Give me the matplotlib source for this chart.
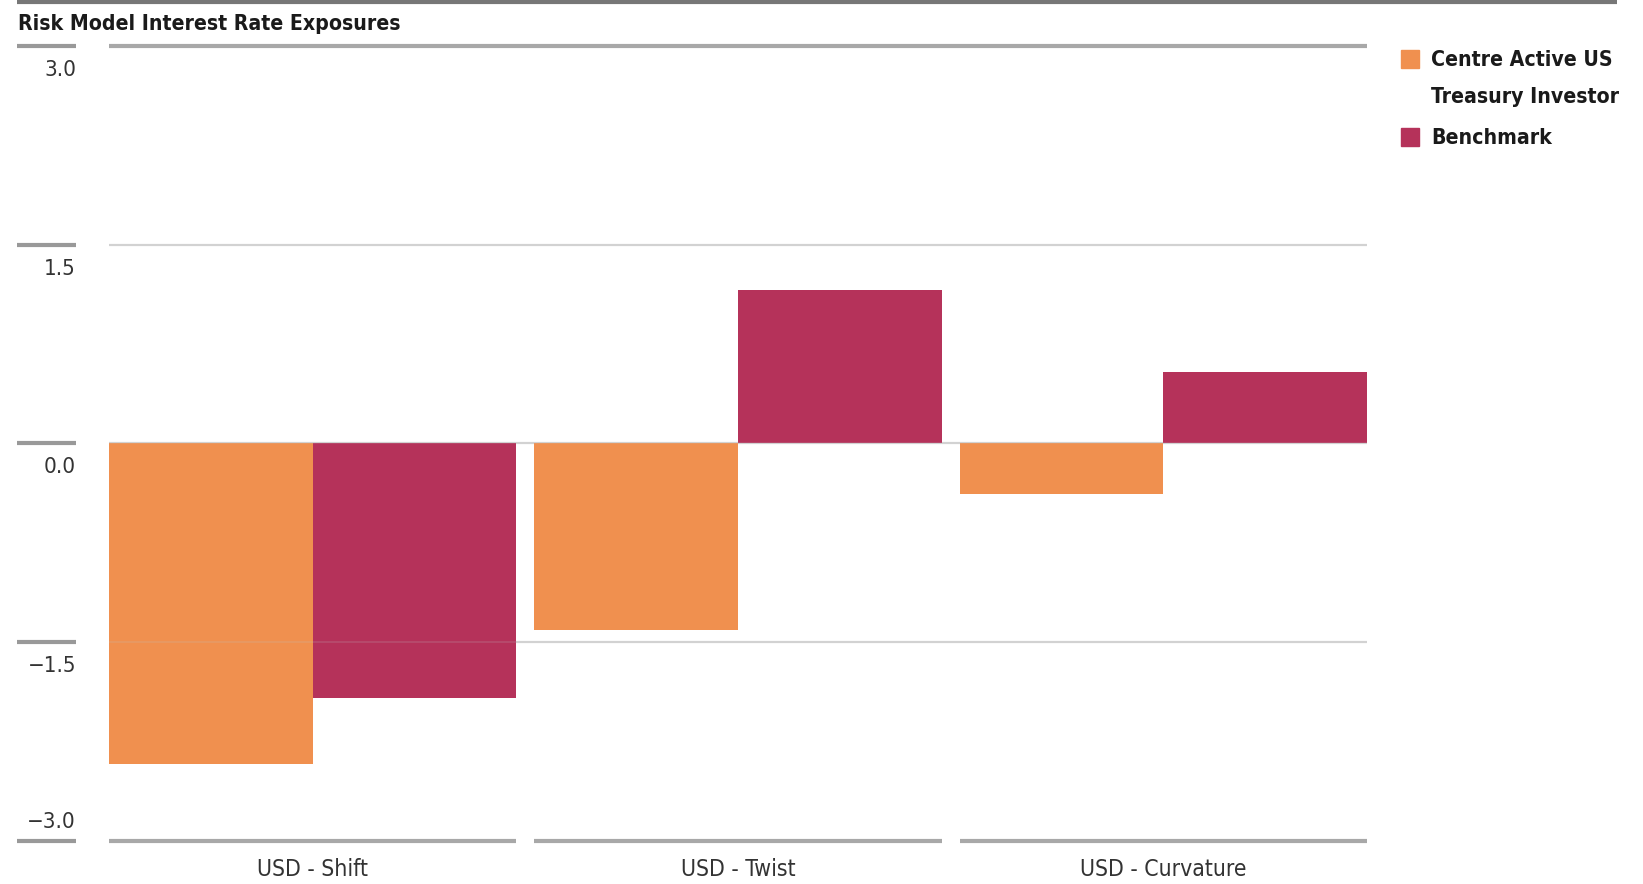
import matplotlib
matplotlib.use("Agg")
import matplotlib.pyplot as plt
import numpy as np
from matplotlib import font_manager
from matplotlib.transforms import blended_transform_factory, offset_copy
from matplotlib.patches import Rectangle
from matplotlib.lines import Line2D

# ---------------- data ----------------
title = "Risk Model Interest Rate Exposures"
categories = ["USD - Shift", "USD - Twist", "USD - Curvature"]
series_names = ["Centre Active US\nTreasury Investor", "Benchmark"]
fund_values = [-2.42, -1.41, -0.38]
benchmark_values = [-1.92, 1.16, 0.54]
y_ticks = [3.0, 1.5, 0.0, -1.5, -3.0]
y_tick_labels = ["3.0", "1.5", "0.0", "\u22121.5", "\u22123.0"]
colors = ["#F0904F", "#B5325A"]

# ---------------- font ----------------
names = {(f.name, f.stretch) for f in font_manager.fontManager.ttflist}
fam, stretch = "DejaVu Sans", "normal"
if any(n == "Liberation Sans Narrow" for n, s in names):
    fam, stretch = "Liberation Sans Narrow", "normal"
elif ("DejaVu Sans", "condensed") in names:
    fam, stretch = "DejaVu Sans", "condensed"
elif any(n == "Roboto Condensed" for n, s in names):
    fam = "Roboto Condensed"
plt.rcParams["font.family"] = [fam, "DejaVu Sans"]
plt.rcParams["font.stretch"] = stretch

W, H = 1643, 884
fig = plt.figure(figsize=(W / 100, H / 100), dpi=100)
fig.patch.set_facecolor("white")

left, right, top, bottom = 109, 1367, 46, 841
ax = fig.add_axes([left / W, 1 - bottom / H, (right - left) / W, (bottom - top) / H])

n = len(categories)
x = np.arange(n)
bw = 0.479
ax.bar(x - bw / 2, fund_values, width=bw, color=colors[0], zorder=2)
ax.bar(x + bw / 2, benchmark_values, width=bw, color=colors[1], zorder=2)
ax.set_xlim(-bw, n - 1 + bw)
ax.set_ylim(-3.0, 3.0)
for s in ax.spines.values():
    s.set_visible(False)
ax.set_xticks([])
ax.set_yticks([])
ax.patch.set_alpha(0)

# inner gridlines
for yv in y_ticks:
    if abs(yv) < 3.0:
        ax.axhline(yv, color="#d6d6d6", lw=1.6, zorder=1)
        ax.axhline(yv, color="#c0c0c0", lw=1.2, alpha=0.2, zorder=3)
# top gridline
ax.plot([-bw, n - 1 + bw], [3.0, 3.0], color="#a8a8a8", lw=3, zorder=3,
        clip_on=False, solid_capstyle="butt")
# bottom segmented axis per group
for xi in x:
    ax.plot([xi - bw, xi + bw], [-3.0, -3.0], color="#a8a8a8", lw=3, zorder=3,
            clip_on=False, solid_capstyle="butt")

# left tick segments + labels
bt = blended_transform_factory(fig.transFigure, ax.transData)
for yv, lab in zip(y_ticks, y_tick_labels):
    ax.add_line(Line2D([17 / W, 76 / W], [yv, yv], transform=bt, color="#999999",
                       lw=3, clip_on=False, solid_capstyle="butt"))
    tr = offset_copy(bt, fig=fig, x=0, y=-24 if yv > -3 else 19, units="dots")
    ax.text(76 / W, yv, lab, transform=tr, ha="right", va="center",
            fontsize=16, color="#333333", clip_on=False)

# x category labels
bx = blended_transform_factory(ax.transData, fig.transFigure)
for xi, lab in zip(x, categories):
    ax.text(xi, 1 - 870 / H, lab, transform=bx, ha="center", va="center",
            fontsize=16.5, color="#333333")

# top border
fig.add_artist(Line2D([17 / W, 1617 / W], [1 - 2 / H, 1 - 2 / H], color="#777777",
                      lw=3, transform=fig.transFigure, solid_capstyle="butt"))

# title
fig.text(18 / W, 1 - 24 / H, title, ha="left", va="center", fontsize=15.2,
         fontweight="bold", color="#1a1a1a")

# legend (manual)
sq = 18
sq_y = [59, 137]
line_gap = 37
for c, nm, yc in zip(colors, series_names, sq_y):
    fig.add_artist(Rectangle((1401 / W, 1 - (yc + sq / 2) / H), sq / W, sq / H,
                             transform=fig.transFigure, color=c))
    for k, part in enumerate(nm.split("\n")):
        fig.text(1431 / W, 1 - (yc + 1 + k * line_gap) / H, part, ha="left", va="center",
                 fontsize=15.2, fontweight="bold", color="#1a1a1a")

fig.savefig("out.png", dpi=100, facecolor="white")
